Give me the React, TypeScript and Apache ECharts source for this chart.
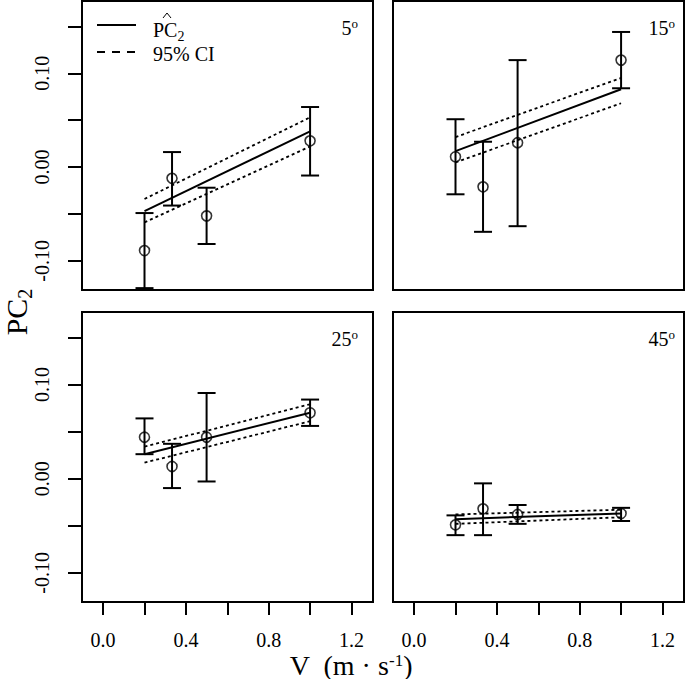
import React, { useEffect, useRef } from "react";
import * as echarts from "echarts";

const FONT = "Liberation Serif";

// x values (V, m/s)
const V = [0.2, 0.333, 0.5, 1.0];
const FIT_V = [0.2, 1.0];

// panel labels (angles)
const ANGLES = ["5", "15", "25", "45"];

// 5 deg
const PC_5 = [-0.089, -0.012, -0.052, 0.028];
const LO_5 = [-0.129, -0.041, -0.082, -0.009];
const HI_5 = [-0.049, 0.016, -0.022, 0.064];
const FIT_5 = [-0.047, 0.038];
const CIU_5 = [-0.034, 0.053];
const CIL_5 = [-0.059, 0.022];

// 15 deg
const PC_15 = [0.011, -0.021, 0.026, 0.114];
const LO_15 = [-0.029, -0.069, -0.063, 0.084];
const HI_15 = [0.051, 0.027, 0.114, 0.144];
const FIT_15 = [0.017, 0.083];
const CIU_15 = [0.032, 0.095];
const CIL_15 = [0.005, 0.068];

// 25 deg
const PC_25 = [0.044, 0.013, 0.044, 0.07];
const LO_25 = [0.026, -0.01, -0.003, 0.056];
const HI_25 = [0.064, 0.037, 0.091, 0.084];
const FIT_25 = [0.026, 0.07];
const CIU_25 = [0.034, 0.079];
const CIL_25 = [0.017, 0.061];

// 45 deg
const PC_45 = [-0.049, -0.032, -0.038, -0.037];
const LO_45 = [-0.06, -0.06, -0.048, -0.045];
const HI_45 = [-0.039, -0.005, -0.028, -0.031];
const FIT_45 = [-0.043, -0.037];
const CIU_45 = [-0.038, -0.033];
const CIL_45 = [-0.048, -0.041];

// axis ticks / labels
const X_TICKS = [0, 0.2, 0.4, 0.6, 0.8, 1.0, 1.2];
const X_LABELS = [0, 0.4, 0.8, 1.2];
const Y_TICKS = [-0.1, -0.05, 0, 0.05, 0.1, 0.15];
const Y_LABELS = [-0.1, 0, 0.1];

const PANELS = [
  { pc: PC_5, lo: LO_5, hi: HI_5, fit: FIT_5, ciu: CIU_5, cil: CIL_5 },
  { pc: PC_15, lo: LO_15, hi: HI_15, fit: FIT_15, ciu: CIU_15, cil: CIL_15 },
  { pc: PC_25, lo: LO_25, hi: HI_25, fit: FIT_25, ciu: CIU_25, cil: CIL_25 },
  { pc: PC_45, lo: LO_45, hi: HI_45, fit: FIT_45, ciu: CIU_45, cil: CIL_45 },
];

const GRIDS = [
  { left: 82, top: 1, width: 291, height: 289 },
  { left: 393, top: 1, width: 291, height: 289 },
  { left: 82, top: 312, width: 291, height: 290 },
  { left: 393, top: 312, width: 291, height: 290 },
];

const LABEL_POS = [
  [358, 28],
  [675, 28],
  [358, 339],
  [675, 339],
];

export default function App() {
  const ref = useRef<HTMLDivElement>(null);
  useEffect(() => {
    if (!ref.current) return;
    const chart = echarts.init(ref.current, undefined, { renderer: "svg" });
    const black = "#000";

    const grid = GRIDS.map((g) => ({
      ...g,
      show: true,
      borderColor: black,
      borderWidth: 2,
      backgroundColor: "transparent",
    }));

    const xAxis = GRIDS.map((_, i) => {
      const bottom = i >= 2;
      return {
        type: "value",
        gridIndex: i,
        position: "bottom",
        min: -0.102,
        max: 1.304,
        axisLine: { show: false, onZero: false },
        splitLine: { show: false },
        axisTick: {
          show: bottom,
          length: 13,
          customValues: X_TICKS,
          lineStyle: { color: black, width: 2 },
        },
        axisLabel: {
          show: bottom,
          customValues: X_LABELS,
          margin: 28,
          lineHeight: 20,
          color: black,
          fontFamily: FONT,
          fontSize: 20,
          formatter: (v: number) => v.toFixed(1),
        },
      };
    });

    const yAxis = GRIDS.map((_, i) => {
      const left = i % 2 === 0;
      return {
        type: "value",
        gridIndex: i,
        position: "left",
        min: -0.131,
        max: 0.177,
        axisLine: { show: false, onZero: false },
        splitLine: { show: false },
        axisTick: {
          show: left,
          length: 14,
          customValues: Y_TICKS,
          lineStyle: { color: black, width: 2 },
        },
        axisLabel: {
          show: left,
          customValues: Y_LABELS,
          rotate: 90,
          margin: 30,
          color: black,
          fontFamily: FONT,
          fontSize: 20,
          formatter: (v: number) => v.toFixed(2),
        },
      };
    });

    const series: any[] = [];
    PANELS.forEach((p, i) => {
      series.push({
        type: "custom",
        xAxisIndex: i,
        yAxisIndex: i,
        data: V.map((v, k) => [v, p.lo[k], p.hi[k]]),
        encode: { x: 0, y: [1, 2] },
        renderItem: (params: any, api: any) => {
          const x = api.value(0);
          const top = api.coord([x, api.value(2)]);
          const bot = api.coord([x, api.value(1)]);
          const st = { stroke: black, lineWidth: 2 };
          return {
            type: "group",
            children: [
              { type: "line", shape: { x1: top[0], y1: top[1], x2: bot[0], y2: bot[1] }, style: st },
              { type: "line", shape: { x1: top[0] - 9, y1: top[1], x2: top[0] + 9, y2: top[1] }, style: st },
              { type: "line", shape: { x1: bot[0] - 9, y1: bot[1], x2: bot[0] + 9, y2: bot[1] }, style: st },
            ],
          };
        },
      });
      series.push({
        type: "scatter",
        xAxisIndex: i,
        yAxisIndex: i,
        symbol: "circle",
        symbolSize: 10,
        itemStyle: { color: "rgba(0,0,0,0)", borderColor: black, borderWidth: 1.6 },
        data: V.map((v, k) => [v, p.pc[k]]),
      });
      series.push({
        type: "line",
        xAxisIndex: i,
        yAxisIndex: i,
        symbol: "none",
        lineStyle: { color: black, width: 2 },
        data: FIT_V.map((v, k) => [v, p.fit[k]]),
      });
      [p.ciu, p.cil].forEach((ci) => {
        series.push({
          type: "line",
          xAxisIndex: i,
          yAxisIndex: i,
          symbol: "none",
          lineStyle: { color: black, width: 1.8, type: [3, 3] },
          data: FIT_V.map((v, k) => [v, ci[k]]),
        });
      });
    });

    const graphic: any[] = [];
    ANGLES.forEach((a, i) => {
      graphic.push({
        type: "text",
        x: LABEL_POS[i][0],
        y: LABEL_POS[i][1],
        style: {
          text: `{n|${a}}{s|o}`,
          align: "right",
          verticalAlign: "middle",
          fill: black,
          rich: {
            n: { fontSize: 20, fontFamily: FONT, fill: black, lineHeight: 22 },
            s: { fontSize: 13, fontFamily: FONT, fill: black, verticalAlign: "top", lineHeight: 22 },
          },
        },
      });
    });
    // legend
    graphic.push(
      { type: "line", shape: { x1: 97, y1: 25, x2: 136, y2: 25 }, style: { stroke: black, lineWidth: 2 } },
      {
        type: "line",
        shape: { x1: 97, y1: 52, x2: 136, y2: 52 },
        style: { stroke: black, lineWidth: 2, lineDash: [8, 7] },
      },
      {
        type: "text",
        x: 153,
        y: 30,
        style: {
          text: "{a|PC}{b|2}",
          verticalAlign: "middle",
          fill: black,
          rich: {
            a: { fontSize: 20, fontFamily: FONT, fill: black, lineHeight: 22 },
            b: { fontSize: 14, fontFamily: FONT, fill: black, verticalAlign: "bottom", lineHeight: 26 },
          },
        },
      },
      {
        type: "polyline",
        shape: { points: [[163, 18], [167, 13], [171, 18]] },
        style: { stroke: black, lineWidth: 1, fill: "none" },
      },
      {
        type: "text",
        x: 153,
        y: 54,
        style: { text: "95% CI", fontSize: 20, fontFamily: FONT, fill: black, verticalAlign: "middle" },
      },
      // y axis title
      {
        type: "text",
        x: 16,
        y: 312,
        rotation: Math.PI / 2,
        style: {
          text: "{a|PC}{b|2}",
          align: "center",
          verticalAlign: "middle",
          fill: black,
          rich: {
            a: { fontSize: 30, fontFamily: FONT, fill: black, lineHeight: 32 },
            b: { fontSize: 20, fontFamily: FONT, fill: black, verticalAlign: "bottom", lineHeight: 38 },
          },
        },
      },
      // x axis title
      {
        type: "text",
        x: 351,
        y: 665,
        style: {
          text: "{a|V  (m · s}{b|-1}{a|)}",
          align: "center",
          verticalAlign: "middle",
          fill: black,
          rich: {
            a: { fontSize: 28, fontFamily: FONT, fill: black, lineHeight: 26 },
            b: { fontSize: 17, fontFamily: FONT, fill: black, verticalAlign: "top", lineHeight: 26 },
          },
        },
      }
    );

    chart.setOption({
      animation: false,
      backgroundColor: "#fff",
      grid,
      xAxis,
      yAxis,
      series,
      graphic,
    });
    return () => chart.dispose();
  }, []);
  return (
    <div
      ref={ref}
      style={{ position: "absolute", left: 0, top: 0, width: 685, height: 679 }}
    />
  );
}
